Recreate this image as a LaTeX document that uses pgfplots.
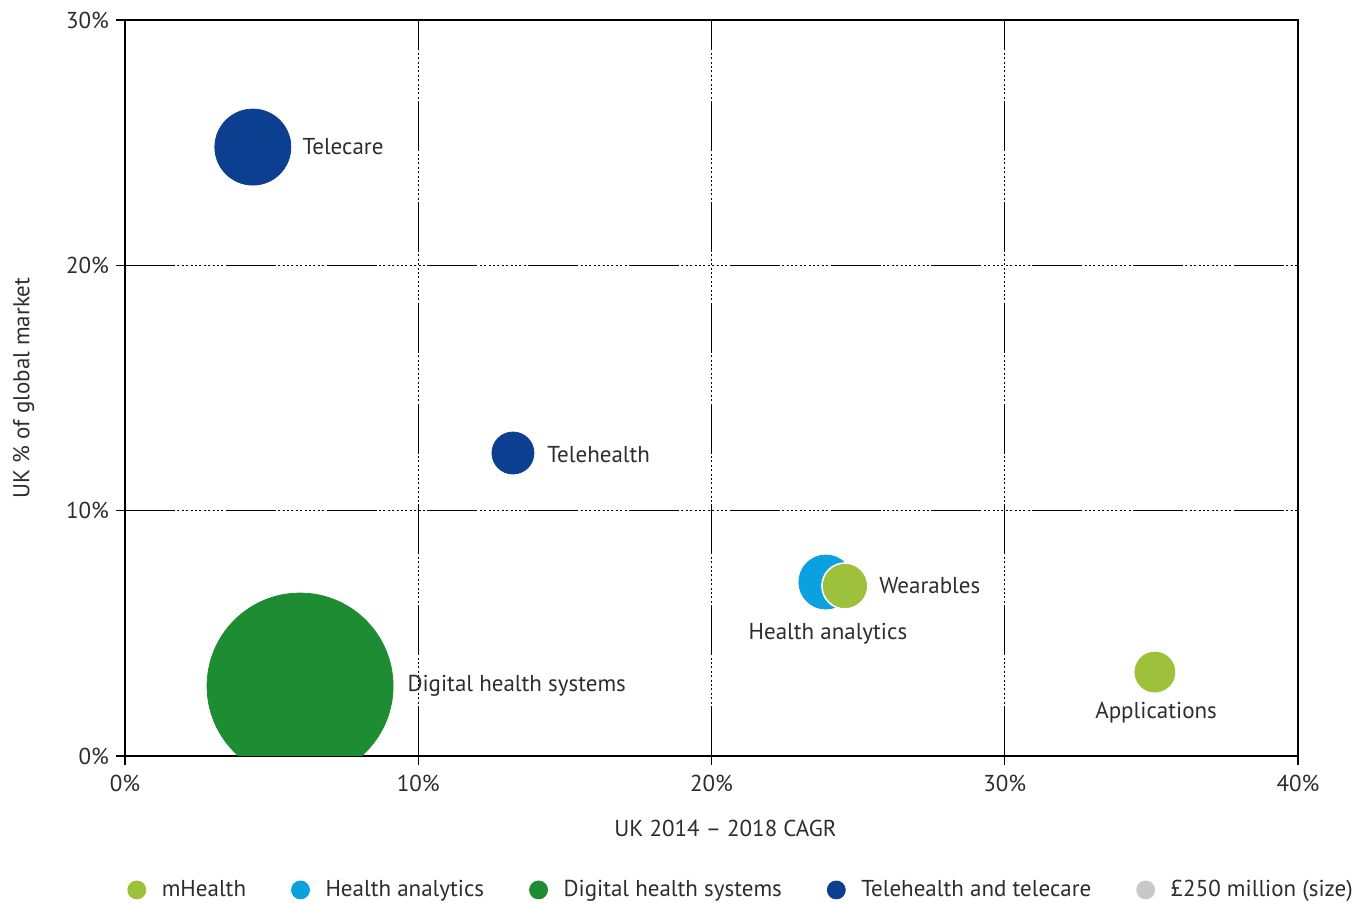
\documentclass[border=0pt]{standalone}
\usepackage{fontspec}
\setmainfont{PT Sans}
\usepackage{pgfplots}
\pgfplotsset{compat=1.18}
\definecolor{navy}{RGB}{13,63,145}
\definecolor{dgreen}{RGB}{30,140,50}
\definecolor{lblue}{RGB}{11,160,223}
\definecolor{lime}{RGB}{157,193,58}
\definecolor{lgrey}{RGB}{200,200,200}
\definecolor{txt}{RGB}{45,45,45}
\begin{document}
\begin{tikzpicture}[font=\fontsize{11.5pt}{13pt}\selectfont]
\begin{axis}[
  scale only axis,
  width=586.5pt, height=368pt,
  xmin=0, xmax=40, ymin=0, ymax=30,
  xtick={0,10,20,30,40},
  ytick={0,10,20,30},
  xticklabels={0\%,10\%,20\%,30\%,40\%},
  yticklabels={0\%,10\%,20\%,30\%},
  tick pos=left,
  tick align=outside,
  major tick length=4.5pt,
  tick style={black, line width=0.7pt},
  axis line style={black, line width=0.7pt},
  grid=major,
  major grid style={black, line width=0.65pt,
    dash pattern={on 25pt off 1.2pt on 1pt off 1.2pt on 1pt off 1.2pt on 1pt off 1.2pt on 1pt off 1.2pt on 1pt off 1.2pt on 1pt off 1.2pt on 1pt off 1.2pt on 1pt off 1.2pt on 1pt off 1.2pt on 1pt off 1.2pt on 1pt off 1.2pt}},
  ticklabel style={text=txt},
  xticklabel style={yshift=-1.5pt},
  xlabel={UK 2014 -- 2018 CAGR},
  ylabel={UK \% of global market},
  xlabel style={yshift=-7.5pt, xshift=7pt},
  ylabel style={yshift=9pt},
  label style={text=txt},
  clip marker paths=true,
  legend columns=5,
  legend style={draw=none, at={(0,-0.182)}, anchor=west, xshift=-2pt,
    text=txt, /tikz/every even column/.append style={column sep=20.5pt}},
  legend cell align=left,
]
% bubbles: x = CAGR (%), y = UK share (%), mark size = radius
\addplot[only marks, mark=*, mark size=46.5pt, color=dgreen, forget plot] coordinates {(5.97,2.85)};
\addplot[only marks, mark=*, mark size=19pt, color=navy, forget plot] coordinates {(4.36,24.82)};
\addplot[only marks, mark=*, mark size=10.5pt, color=navy, forget plot] coordinates {(13.23,12.35)};
\addplot[only marks, mark=*, mark size=13.5pt, color=lblue, forget plot] coordinates {(23.90,7.09)};
\addplot[only marks, mark=*, mark size=11.5pt, color=lime, mark options={draw=white, line width=0.8pt}, forget plot] coordinates {(24.55,6.93)};
\addplot[only marks, mark=*, mark size=10pt, color=lime, forget plot] coordinates {(35.12,3.42)};

\node[anchor=west, inner sep=0pt, text=txt] at (axis cs:6.04,24.86) {Telecare};
\node[anchor=west, inner sep=0pt, text=txt] at (axis cs:14.39,12.27) {Telehealth};
\node[anchor=west, inner sep=0pt, text=txt] at (axis cs:9.62,2.85) {Digital health systems};
\node[anchor=west, inner sep=0pt, text=txt] at (axis cs:25.71,6.93) {Wearables};
\node[text=txt] at (axis cs:23.97,4.97) {Health analytics};
\node[text=txt] at (axis cs:35.16,1.75) {Applications};

\pgfplotsset{legend image code/.code={\path[draw=none, fill=none] (-4.5pt,0) -- (10.5pt,0); \fill (0,0) circle (4.5pt);}}
\addlegendimage{color=lime}
\addlegendentry{mHealth}
\addlegendimage{color=lblue}
\addlegendentry{Health analytics}
\addlegendimage{color=dgreen}
\addlegendentry{Digital health systems}
\addlegendimage{color=navy}
\addlegendentry{Telehealth and telecare}
\addlegendimage{color=lgrey}
\addlegendentry{\textsterling250 million (size)}
\end{axis}
\path (current axis.south west) ++(-62.5pt,-73.5pt) coordinate (bl);
\path (current axis.north east) ++(31pt,10pt) coordinate (tr);
\pgfresetboundingbox
\useasboundingbox (bl) rectangle (tr);
\end{tikzpicture}
\end{document}
